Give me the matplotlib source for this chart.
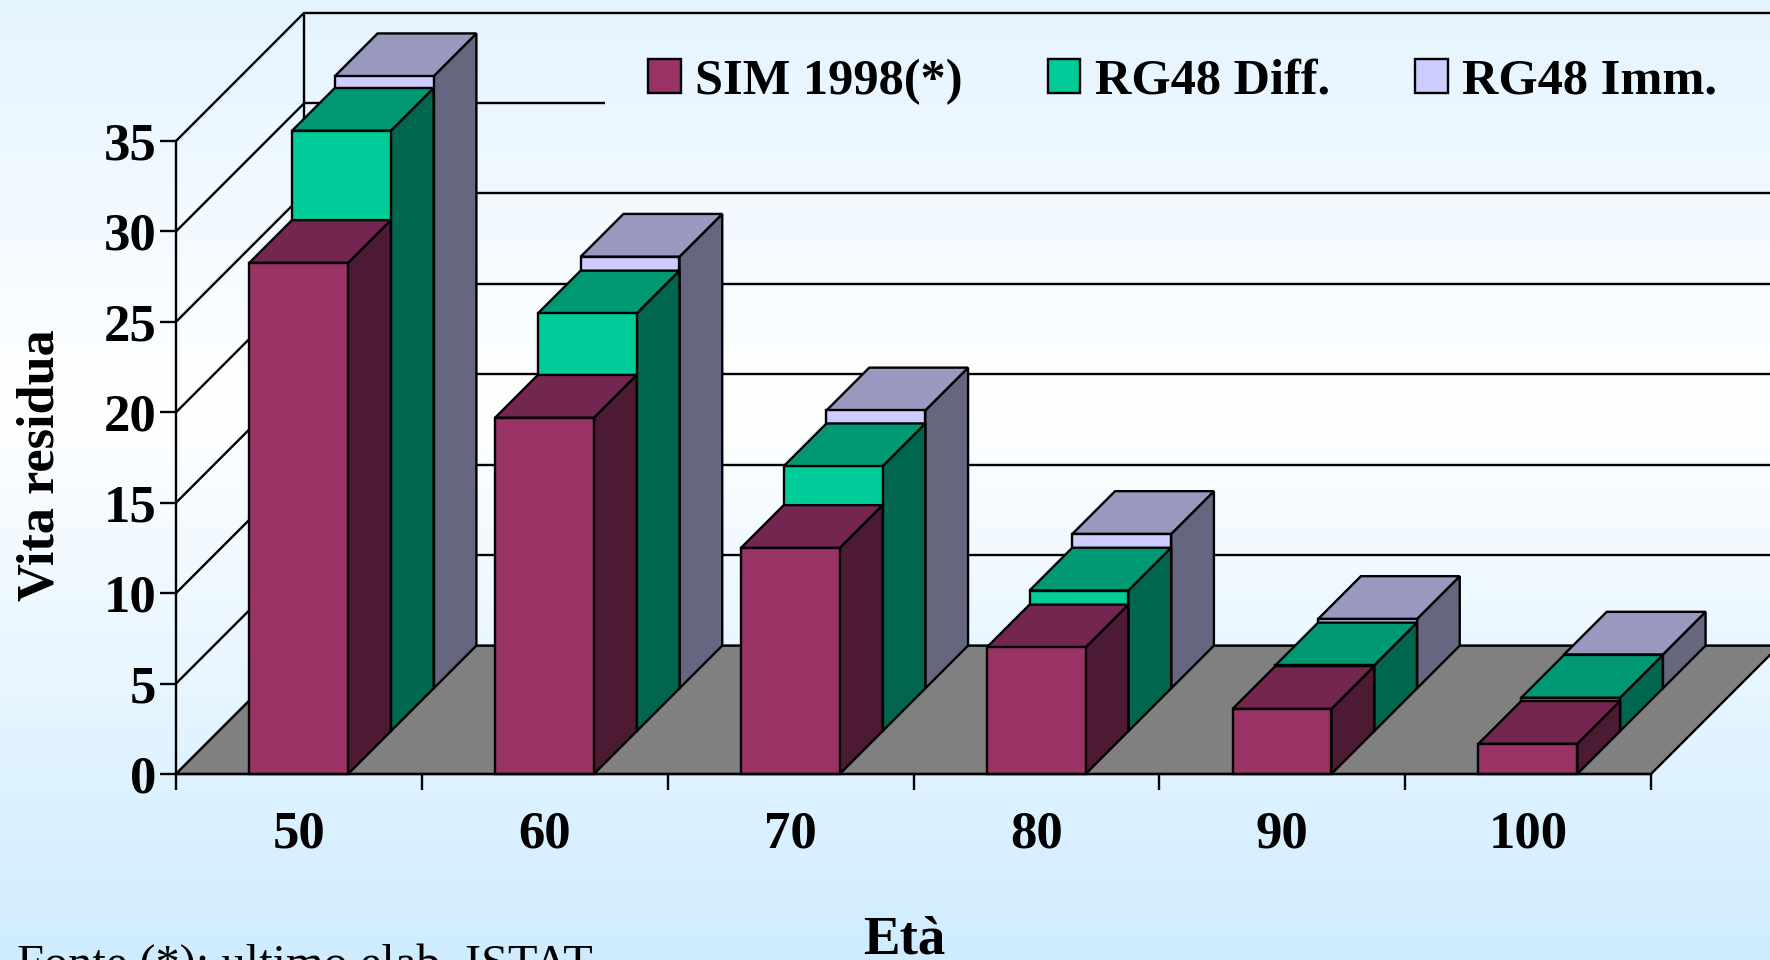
import numpy as np
import matplotlib
matplotlib.use('Agg')
import matplotlib.pyplot as plt
from matplotlib.colors import LinearSegmentedColormap
from matplotlib.patches import Patch, Polygon

plt.rcParams['font.family'] = ['Liberation Serif', 'DejaVu Serif']

# Data
ages = ['50', '60', '70', '80', '90', '100']
sim_1998 = [28.26, 19.7, 12.5, 7.0, 3.6, 1.67]
rg48_diff = [33.2, 23.1, 14.65, 7.78, 3.64, 1.85]
rg48_imm = [33.85, 23.87, 15.37, 8.54, 3.84, 1.87]
series_names = ['SIM 1998(*)', 'RG48 Diff.', 'RG48 Imm.']
y_ticks = [0, 5, 10, 15, 20, 25, 30, 35]

# front, top and side colours of each series
front_colors = ['#993366', '#00CC99', '#CCCCFF']
top_colors = ['#732650', '#009973', '#9999BF']
side_colors = ['#4D1A33', '#00664D', '#666680']
floor_color = '#808080'

# oblique projection: one depth row shifts this much, in axis units
DX = 0.174
DY = 2.366
BAR_START = 0.298
BAR_WIDTH = 0.402
LW = 1.7


def proj(x, y, z):
    return (x + z * DX, y + z * DY)


fig = plt.figure(figsize=(17.7, 9.6), dpi=100)

# background gradient
bg = fig.add_axes([0, 0, 1, 1], zorder=-1)
cmap = LinearSegmentedColormap.from_list(
    'bg', [(0, '#E4F4FF'), (0.42, '#FFFFFF'), (1, '#CFECFF')])
bg.imshow(np.linspace(0, 1, 256).reshape(-1, 1), aspect='auto', cmap=cmap)
bg.axis('off')

ax = fig.add_axes([176 / 1770, (960 - 774) / 960, 1475 / 1770, (774 - 141) / 960])
ax.patch.set_visible(False)
ax.set_xlim(0, 6)
ax.set_ylim(0, 35)


def add_poly(pts, color, z):
    ax.add_patch(Polygon(pts, closed=True, facecolor=color, edgecolor='black',
                         linewidth=LW, joinstyle='miter', clip_on=False, zorder=z))


def add_line(p0, p1, z=1):
    ax.plot([p0[0], p1[0]], [p0[1], p1[1]], color='black', lw=LW,
            solid_capstyle='butt', clip_on=False, zorder=z)


# floor
add_poly([proj(0, 0, 0), proj(6, 0, 0), proj(6, 0, 3), proj(0, 0, 3)], floor_color, 1.5)

# walls: diagonals on the left, gridlines on the back
legend_left = 1.745
for v in y_ticks:
    add_line(proj(0, v, 0), proj(0, v, 3))
    if v == 30:
        # the legend box hides this one
        add_line(proj(0, v, 3), (legend_left, proj(0, v, 3)[1]))
    else:
        add_line(proj(0, v, 3), proj(6, v, 3))
add_line(proj(0, 0, 3), proj(0, 35, 3))

# bars, back row first
all_series = [sim_1998, rg48_diff, rg48_imm]
for row in [2, 1, 0]:
    for i, val in enumerate(all_series[row]):
        x0 = i + BAR_START
        x1 = x0 + BAR_WIDTH
        z = 3 + (2 - row)
        add_poly([proj(x1, 0, row), proj(x1, 0, row + 1),
                  proj(x1, val, row + 1), proj(x1, val, row)], side_colors[row], z)
        add_poly([proj(x0, val, row), proj(x1, val, row),
                  proj(x1, val, row + 1), proj(x0, val, row + 1)], top_colors[row], z)
        add_poly([proj(x0, 0, row), proj(x1, 0, row),
                  proj(x1, val, row), proj(x0, val, row)], front_colors[row], z)

# axes
for s in ['top', 'right']:
    ax.spines[s].set_visible(False)
for s in ['left', 'bottom']:
    ax.spines[s].set_linewidth(LW)
    ax.spines[s].set_zorder(8)

ax.set_yticks(y_ticks)
ax.set_yticklabels([str(v) for v in y_ticks])
ax.tick_params(axis='y', length=11.5, width=LW, pad=2.5, labelsize=38)
ax.set_xticks(range(7))
ax.set_xticklabels([])
ax.tick_params(axis='x', which='major', length=11.5, width=LW)
ax.set_xticks(np.arange(6) + 0.5, ages, minor=True)
ax.tick_params(axis='x', which='minor', length=0, pad=26.5, labelsize=38)
for lab in ax.get_yticklabels() + ax.get_xticklabels(minor=True):
    lab.set_fontweight('bold')

fig.text(41 / 1770, 1 - 465 / 960, 'Vita residua', rotation=90, fontsize=37.7,
         fontweight='bold', ha='center', va='center')
fig.text(904 / 1770, 1 - 953 / 960, 'Età', fontsize=39.5, fontweight='bold',
         ha='center', va='baseline')
fig.text(17 / 1770, 1 - 978 / 960, 'Fonte (*): ultimo elab. ISTAT', fontsize=34.85,
         ha='left', va='baseline')

# legend
handles = [Patch(facecolor=c, edgecolor='black', linewidth=LW) for c in front_colors]
ax.legend(handles, series_names, ncol=3, loc='upper left',
          bbox_to_anchor=(648 / 1770, 1 - 58.5 / 960), bbox_transform=fig.transFigure,
          frameon=False, borderaxespad=0, borderpad=0,
          prop={'weight': 'bold', 'size': 36.3}, handlelength=0.65, handleheight=0.65,
          handletextpad=0.29, columnspacing=1.68)

fig.savefig('out.png', dpi=100)
